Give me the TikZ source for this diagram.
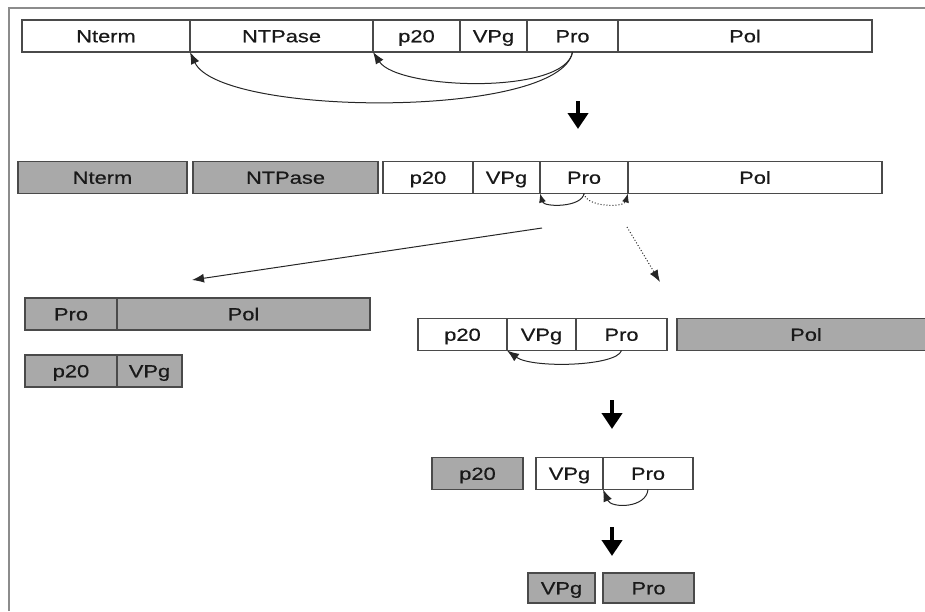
\documentclass[tikz,border=0pt]{standalone}
\usepackage{fontspec}
\setmainfont[FakeStretch=1.25, FakeBold=0.5]{Liberation Sans}
\usetikzlibrary{arrows.meta}
\definecolor{corte}{HTML}{A9A9A9}
\definecolor{borda}{HTML}{4A4A4A}
\definecolor{moldura}{HTML}{8C8C8C}

\begin{document}
\begin{tikzpicture}[x=1pt, y=-1pt, >={Latex[length=12pt,width=9pt]},
  seg/.style={draw=borda, line width=1.2pt, rectangle, inner sep=0pt, outer sep=0pt,
    minimum height=32, text=black!90, text height=12.5pt, text depth=0pt,
    font=\fontsize{17.5}{19}\selectfont},
  cortado/.style={seg, fill=corte},
  seta/.style={draw=black, line width=4.2pt, -{Triangle[length=16pt,width=20pt]}},
  fina/.style={->, draw=black!85, line width=1pt}]
\useasboundingbox (0,0) rectangle (925,611);
\draw[moldura, line width=2pt] (9,611) -- (9,8) -- (925,8);

% Poliproteina
\node[seg, minimum width=168] (r1nt) at (106,36) {Nterm};
\node[seg, minimum width=183] (r1ntp) at (281.5,36) {NTPase};
\node[seg, minimum width=87] (r1p20) at (416.5,36) {p20};
\node[seg, minimum width=67] (r1vpg) at (493.5,36) {VPg};
\node[seg, minimum width=91] (r1pro) at (572.5,36) {Pro};
\node[seg, minimum width=254] (r1pol) at (745,36) {Pol};

% Primeira clivagem
\node[cortado, minimum width=169] (r2nt) at (102.5,177.5) {Nterm};
\node[cortado, minimum width=185] (r2ntp) at (285.5,177.5) {NTPase};
\node[seg, minimum width=90] (r2p20) at (428,177.5) {p20};
\node[seg, minimum width=67] (r2vpg) at (506.5,177.5) {VPg};
\node[seg, minimum width=88] (r2pro) at (584,177.5) {Pro};
\node[seg, minimum width=254] (r2pol) at (755,177.5) {Pol};

% Produtos (esquerda)
\node[cortado, minimum width=92] (r3apro) at (71,314) {Pro};
\node[cortado, minimum width=253] (r3apol) at (243.5,314) {Pol};
\node[cortado, minimum width=92] (r3bp20) at (71,371) {p20};
\node[cortado, minimum width=65] (r3bvpg) at (149.5,371) {VPg};

% Produtos (direita)
\node[seg, minimum width=89] (r3p20) at (462.5,334.5) {p20};
\node[seg, minimum width=69] (r3vpg) at (541.5,334.5) {VPg};
\node[seg, minimum width=91] (r3pro) at (621.5,334.5) {Pro};
\node[cortado, minimum width=258] (r3pol) at (806,334.5) {Pol};

\node[cortado, minimum width=91] (r4p20) at (477.5,473.5) {p20};
\node[seg, minimum width=67] (r4vpg) at (569.5,473.5) {VPg};
\node[seg, minimum width=90] (r4pro) at (648,473.5) {Pro};

\node[cortado, minimum width=67, minimum height=30] (r5vpg) at (561.5,588) {VPg};
\node[cortado, minimum width=91, minimum height=30] (r5pro) at (648.5,588) {Pro};

% Setas grossas
\coordinate (s1a) at (578,101);
\coordinate (s1b) at (578,129);
\coordinate (s2a) at (612,400);
\coordinate (s2b) at (612,429);
\coordinate (s3a) at (612,527);
\coordinate (s3b) at (612,556);
\draw[seta] (s1a) -- (s1b);
\draw[seta] (s2a) -- (s2b);
\draw[seta] (s3a) -- (s3b);

% Clivagens
\draw[fina] (r1pro.south) .. controls +(-12,67) and +(30,65) .. (r1ntp.south west);
\draw[fina] (r1pro.south) .. controls +(-7,43) and +(25,38) .. (r1p20.south west);
\draw[fina, >={Latex[length=9pt,width=7pt]}] (r2pro.south) .. controls +(-2,14) and +(4,14) .. (r2pro.south west);
\draw[fina, dotted, >={Latex[length=9pt,width=7pt]}] (r2pro.south) .. controls +(2,14) and +(-4,14) .. (r2pro.south east);
\draw[fina] (r3pro.south) .. controls +(-5,16) and +(25,18) .. (r3vpg.south west);
\draw[fina] (r4pro.south) .. controls +(-2,19) and +(8,19) .. (r4vpg.south east);

% Vias
\coordinate (v1a) at (542,228);
\coordinate (v1b) at (192,280);
\coordinate (v2a) at (627,227);
\coordinate (v2b) at (660,282);
\draw[fina] (v1a) -- (v1b);
\draw[fina, dotted] (v2a) -- (v2b);
\end{tikzpicture}
\end{document}
